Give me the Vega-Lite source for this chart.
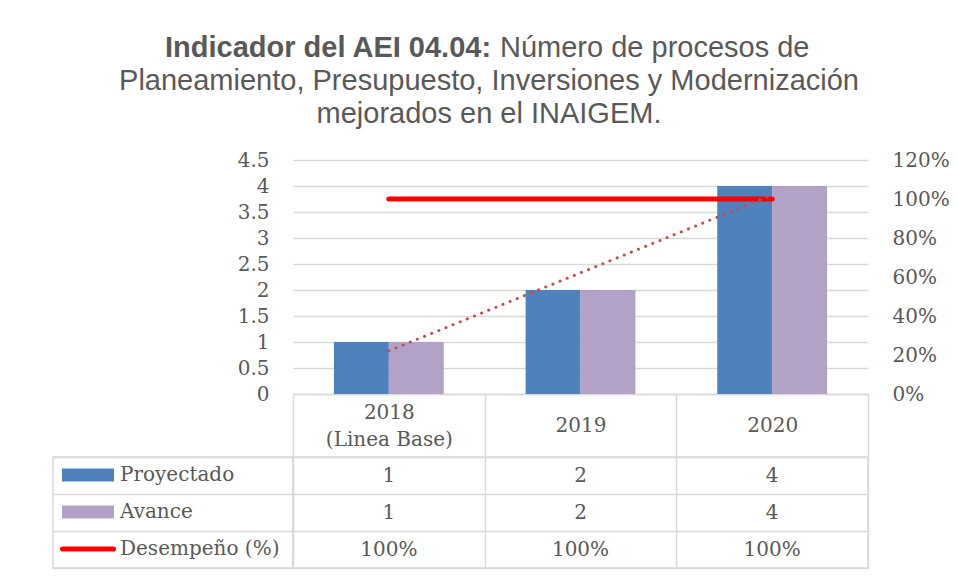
{
  "$schema": "https://vega.github.io/schema/vega-lite/v6.json",
  "padding": {"left": 52, "top": 33, "right": 5, "bottom": 5},
  "background": "#ffffff",
  "datasets": {
    "barras": [
      {"anio": "2018", "serie": "Proyectado", "valor": 1},
      {"anio": "2018", "serie": "Avance", "valor": 1},
      {"anio": "2019", "serie": "Proyectado", "valor": 2},
      {"anio": "2019", "serie": "Avance", "valor": 2},
      {"anio": "2020", "serie": "Proyectado", "valor": 4},
      {"anio": "2020", "serie": "Avance", "valor": 4}
    ],
    "desempeno": [
      {"anio": "2018", "pct": 1},
      {"anio": "2019", "pct": 1},
      {"anio": "2020", "pct": 1}
    ],
    "tendencia": [
      {"anio": "2018", "valor": 0.83},
      {"anio": "2019", "valor": 2.33},
      {"anio": "2020", "valor": 3.83}
    ],
    "series": [
      {"serie": "Proyectado"},
      {"serie": "Avance"},
      {"serie": "Desempeño (%)"}
    ],
    "tabla": [
      {"serie": "Proyectado", "anio": "2018", "texto": "1"},
      {"serie": "Proyectado", "anio": "2019", "texto": "2"},
      {"serie": "Proyectado", "anio": "2020", "texto": "4"},
      {"serie": "Avance", "anio": "2018", "texto": "1"},
      {"serie": "Avance", "anio": "2019", "texto": "2"},
      {"serie": "Avance", "anio": "2020", "texto": "4"},
      {"serie": "Desempeño (%)", "anio": "2018", "texto": "100%"},
      {"serie": "Desempeño (%)", "anio": "2019", "texto": "100%"},
      {"serie": "Desempeño (%)", "anio": "2020", "texto": "100%"}
    ]
  },
  "columns": 2,
  "bounds": "flush",
  "align": "each",
  "spacing": {"row": 63, "column": 0},
  "resolve": {
    "scale": {"x": "independent", "y": "independent", "color": "independent", "xOffset": "independent"},
    "legend": {"color": "independent"}
  },
  "concat": [
    {
      "width": 240,
      "height": 234,
      "title": {"text": "Indicador del AEI 04.04:", "anchor": "start", "frame": "group", "dx": 112, "offset": 97, "fontWeight": "bold"},
      "data": {"values": [{"t": ""}]},
      "mark": {"type": "text"},
      "encoding": {"text": {"field": "t"}}
    },
    {
      "width": 575,
      "height": 234,
      "title": {
        "text": [
          "Planeamiento, Presupuesto, Inversiones y Modernización",
          "mejorados en el INAIGEM."
        ],
        "anchor": "middle",
        "frame": "group",
        "dx": -91.5,
        "offset": 21
      },
      "layer": [
        {
          "data": {"name": "barras"},
          "mark": {"type": "bar"},
          "encoding": {
            "x": {
              "field": "anio", "type": "nominal",
              "scale": {"type": "band", "paddingInner": 0, "paddingOuter": 0},
              "axis": {
                "title": null, "domain": true, "domainColor": "#D9D9D9", "domainWidth": 1.5,
                "ticks": true, "tickBand": "extent", "tickSize": 63, "tickColor": "#D9D9D9", "tickWidth": 1.5,
                "labelPadding": {"condition": {"test": "datum.value == '2018'", "value": -45}, "value": -31.5},
                "labelBaseline": "middle", "labelAngle": 0, "labelLineHeight": 27,
                "labelExpr": "datum.value == '2018' ? ['2018', '(Linea Base)'] : datum.value",
                "grid": false
              }
            },
            "xOffset": {
              "field": "serie", "type": "nominal",
              "scale": {"domain": ["Proyectado", "Avance"], "paddingInner": 0, "paddingOuter": 0.745}
            },
            "y": {
              "field": "valor", "type": "quantitative",
              "scale": {"domain": [0, 4.5]},
              "axis": {
                "title": null, "values": [0, 0.5, 1, 1.5, 2, 2.5, 3, 3.5, 4, 4.5], "format": "~g",
                "grid": true, "gridColor": "#D9D9D9", "gridWidth": 1.5,
                "domain": false, "ticks": false, "labelPadding": 24
              }
            },
            "color": {
              "field": "serie", "type": "nominal",
              "scale": {"domain": ["Proyectado", "Avance"], "range": ["#4F81BD", "#B3A2C7"]},
              "legend": null
            }
          }
        },
        {
          "data": {"name": "desempeno"},
          "mark": {"type": "line", "color": "#FF0000", "strokeWidth": 5, "strokeCap": "round"},
          "encoding": {
            "x": {"field": "anio", "type": "nominal"},
            "y": {
              "field": "pct", "type": "quantitative",
              "scale": {"domain": [0, 1.2]},
              "axis": {
                "orient": "right", "title": null, "values": [0, 0.2, 0.4, 0.6, 0.8, 1, 1.2], "format": ".0%",
                "grid": false, "domain": false, "ticks": false, "labelPadding": 24
              }
            }
          }
        },
        {
          "data": {"name": "tendencia"},
          "mark": {"type": "line", "color": "#C0504D", "strokeWidth": 3, "strokeDash": [0.1, 7.6], "strokeCap": "round"},
          "encoding": {
            "x": {"field": "anio", "type": "nominal"},
            "y": {"field": "valor", "type": "quantitative", "scale": {"domain": [0, 4.5]}, "axis": null}
          }
        }
      ],
      "resolve": {"scale": {"y": "independent"}}
    },
    {
      "width": 240,
      "height": 111,
      "view": {"stroke": "#D9D9D9", "strokeWidth": 1.5},
      "data": {"name": "series"},
      "mark": {"type": "point", "filled": true, "opacity": 0},
      "encoding": {
        "y": {
          "field": "serie", "type": "nominal",
          "scale": {"type": "band", "domain": ["Proyectado", "Avance", "Desempeño (%)"], "paddingInner": 0, "paddingOuter": 0},
          "axis": {"title": null, "labels": false, "ticks": false, "domain": false, "grid": true, "tickBand": "extent", "gridColor": "#D9D9D9", "gridWidth": 1.5}
        },
        "color": {
          "field": "serie", "type": "nominal",
          "scale": {"domain": ["Proyectado", "Avance", "Desempeño (%)"], "range": ["#4F81BD", "#B3A2C7", "#FF0000"]},
          "legend": {
            "orient": "none", "legendX": 9, "legendY": -8, "title": null, "padding": 0,
            "symbolSize": 2704, "symbolStrokeWidth": 0, "symbolOpacity": 1,
            "labelFontSize": 20, "labelFont": "DejaVu Serif", "labelColor": "#595959",
            "labelOffset": 6, "rowPadding": 1, "labelLimit": 400,
            "encode": {
              "symbols": {
                "update": {
                  "shape": {"signal": "datum.value === 'Desempeño (%)' ? 'M-0.98,-0.1H0.98A0.1,0.1 0 0 1 0.98,0.1H-0.98A0.1,0.1 0 0 1 -0.98,-0.1Z' : 'M-1,-0.25H1V0.25H-1Z'"},
                  "opacity": {"value": 1}
                }
              }
            }
          }
        }
      }
    },
    {
      "width": 575,
      "height": 111,
      "view": {"stroke": "#D9D9D9", "strokeWidth": 1.5},
      "title": {"text": "Número de procesos de", "anchor": "start", "frame": "group", "dx": 207, "offset": 394},
      "data": {"name": "tabla"},
      "mark": {"type": "text", "fontSize": 20, "font": "DejaVu Serif", "color": "#595959"},
      "encoding": {
        "x": {
          "field": "anio", "type": "nominal",
          "scale": {"type": "band", "paddingInner": 0, "paddingOuter": 0},
          "axis": {"title": null, "labels": false, "ticks": false, "domain": false, "grid": true, "tickBand": "extent", "gridColor": "#D9D9D9", "gridWidth": 1.5}
        },
        "y": {
          "field": "serie", "type": "nominal",
          "scale": {"type": "band", "domain": ["Proyectado", "Avance", "Desempeño (%)"], "paddingInner": 0, "paddingOuter": 0},
          "axis": {"title": null, "labels": false, "ticks": false, "domain": false, "grid": true, "tickBand": "extent", "gridColor": "#D9D9D9", "gridWidth": 1.5}
        },
        "text": {"field": "texto"}
      }
    }
  ],
  "config": {
    "view": {"stroke": null},
    "axis": {"labelFont": "DejaVu Serif", "labelFontSize": 20, "labelColor": "#595959"},
    "title": {"font": "Liberation Sans", "fontSize": 29, "color": "#595959", "fontWeight": "normal", "lineHeight": 33}
  }
}
